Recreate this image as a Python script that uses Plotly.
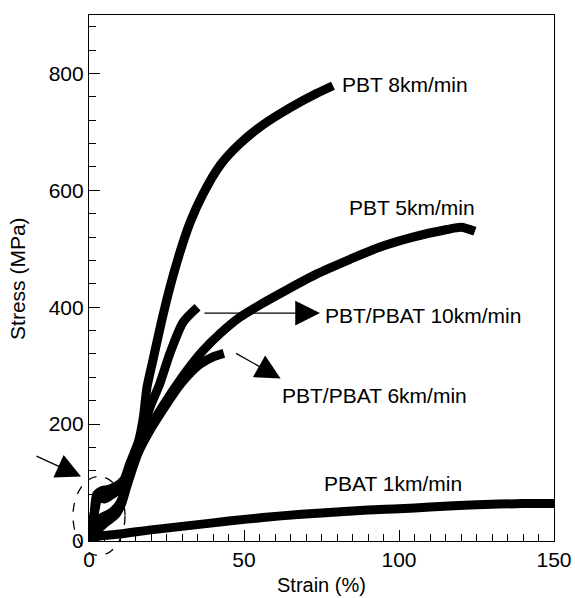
import plotly.graph_objects as go

# ---- data (strain %, stress MPa) ----
pbt8_strain = [0, 1.5, 2.5, 4, 6, 8, 10, 12, 14, 16, 17.5, 18.7, 20.6, 23.5, 26.1, 29.4,
               32.6, 36.8, 42.3, 48.7, 56.1, 64.8, 73.5, 78.7]
pbt8_stress = [0, 40, 80, 86, 88, 92, 98, 110, 135, 170, 210, 263, 309, 378, 434, 495,
               545, 594, 643, 680, 712, 741, 766, 779]

pbt5_strain = [0, 2, 4, 6, 8, 10, 11.5, 12.6, 15.8, 20.3, 25.5, 27.1, 31.6, 36.8, 42.3,
               48.7, 56.1, 63.9, 73.5, 84.2, 93.9, 104.5, 115.5, 120, 124.5]
pbt5_stress = [0, 25, 40, 45, 52, 65, 85, 109, 155, 201, 245, 258, 292, 326, 355,
               383, 407, 430, 457, 482, 503, 520, 533, 537, 530]

blend10_strain = [0, 2, 3, 5, 7, 9, 11, 13, 14.5, 16.5, 19.7, 22.9, 26.1, 30.3, 35.0]
blend10_stress = [0, 55, 75, 72, 78, 85, 100, 130, 150, 177, 229, 270, 321, 374, 400]

blend6_strain = [0, 3, 5, 7, 9, 10.6, 12, 13.5, 15.8, 20.3, 25.5, 29, 32.6, 36, 40, 43.5]
blend6_stress = [0, 20, 30, 38, 48, 65, 90, 115, 150, 195, 238, 265, 287, 303, 315, 321]

pbat1_strain = [0, 1, 3, 6, 10, 20, 30, 40, 50, 62, 75, 90, 100, 110, 125, 140, 150]
pbat1_stress = [0, 5, 8, 10, 12, 19, 25, 31, 37, 43, 48, 53, 55, 58, 62, 64, 64]

series = [
    ("PBT 8km/min", pbt8_strain, pbt8_stress),
    ("PBT 5km/min", pbt5_strain, pbt5_stress),
    ("PBT/PBAT 10km/min", blend10_strain, blend10_stress),
    ("PBT/PBAT 6km/min", blend6_strain, blend6_stress),
    ("PBAT 1km/min", pbat1_strain, pbat1_stress),
]

x_ticks = [0, 50, 100, 150]
y_ticks = [0, 200, 400, 600, 800]

FONT = "Liberation Sans, Arial, sans-serif"

fig = go.Figure()
for name, xs, ys in series:
    fig.add_trace(go.Scatter(
        x=xs, y=ys, mode="lines", name=name,
        line=dict(color="black", width=9, shape="spline", smoothing=0.7),
        showlegend=False, cliponaxis=False,
    ))

# text labels (data coordinates)
labels = [
    ("PBT 8km/min", 81.0, 781),
    ("PBT 5km/min", 83.2, 570),
    ("PBT/PBAT 10km/min", 75.5, 386),
    ("PBT/PBAT 6km/min", 61.6, 249),
    ("PBAT 1km/min", 75.0, 98),
]
for txt, xx, yy in labels:
    fig.add_annotation(x=xx, y=yy, xref="x", yref="y", text=txt, showarrow=False,
                       xanchor="left", yanchor="middle",
                       font=dict(family=FONT, size=21, color="black"))

arrow_common = dict(showarrow=True, arrowhead=2, arrowsize=3.8, arrowwidth=1.3,
                    arrowcolor="black", text="", standoff=0)
# arrow to PBT/PBAT 10km/min label
fig.add_annotation(x=74.5, y=390, xref="x", yref="y", ax=-117, ay=0, **arrow_common)
# arrow to PBT/PBAT 6km/min label
fig.add_annotation(x=61.8, y=278, xref="x", yref="y", ax=-46, ay=-26, **arrow_common)
# arrow pointing at the yield region
fig.add_annotation(x=-0.0172, y=0.1227, xref="paper", yref="paper", ax=-46, ay=-21,
                   **arrow_common)

# dashed ellipse around the yield region
fig.add_shape(type="circle", xref="paper", yref="paper",
              x0=-0.0344, x1=0.0774, y0=-0.0276, y1=0.1227,
              line=dict(color="black", width=1.3, dash="dash"))

# axis titles placed as annotations
fig.add_annotation(x=0.5, y=-0.1085, xref="paper", yref="paper", text="Strain (%)",
                   showarrow=False, xanchor="center", yanchor="bottom",
                   font=dict(family=FONT, size=20, color="black"))
fig.add_annotation(x=-0.155, y=0.5, xref="paper", yref="paper", text="Stress (MPa)",
                   showarrow=False, xanchor="center", yanchor="middle", textangle=-90,
                   font=dict(family=FONT, size=21, color="black"))

axis_common = dict(
    showline=True, linecolor="black", linewidth=1.2, mirror=True,
    ticks="inside", ticklen=11, tickwidth=1.2, tickcolor="black",
    showgrid=False, zeroline=False, automargin=False,
    tickfont=dict(family=FONT, size=21, color="black"),
)

fig.update_xaxes(range=[0, 150], tickvals=x_ticks, ticktext=[str(v) for v in x_ticks],
                 minor=dict(dtick=5, ticks="inside", ticklen=7, tickwidth=1.2, tickcolor="black"),
                 **axis_common)
fig.update_yaxes(range=[0, 900], tickvals=y_ticks, ticktext=[str(v) for v in y_ticks],
                 minor=dict(dtick=40, ticks="inside", ticklen=7, tickwidth=1.2, tickcolor="black"),
                 **axis_common)

fig.update_layout(
    width=575, height=598,
    margin=dict(l=89, r=21, t=15, b=57, autoexpand=False),
    paper_bgcolor="white", plot_bgcolor="white",
    font=dict(family=FONT, color="black"),
)

fig.write_html("out.html")
